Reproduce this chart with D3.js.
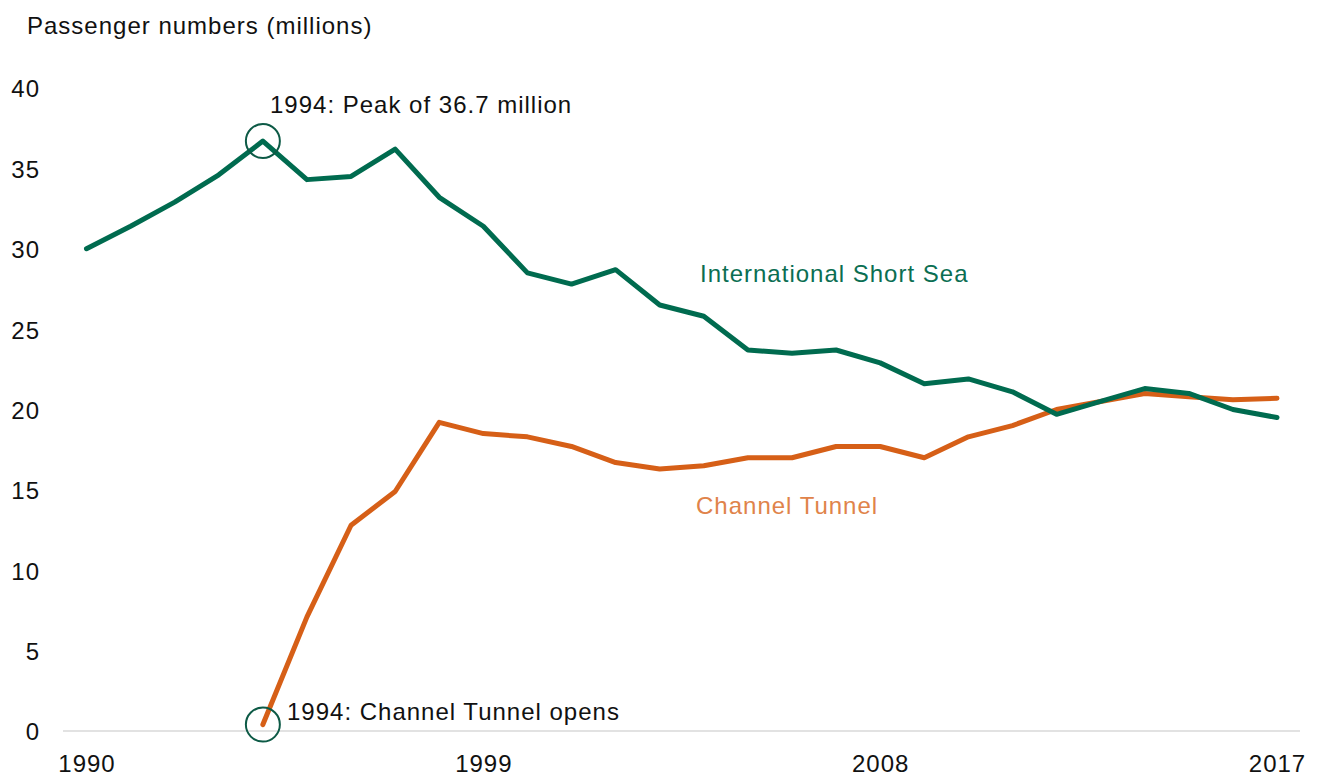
<!DOCTYPE html>
<html>
<head>
<meta charset="utf-8">
<script src="https://cdn.jsdelivr.net/npm/d3@7"></script>
<style>
  html, body { margin: 0; padding: 0; background: #ffffff; }
  svg { display: block; }
  text { font-family: "Liberation Sans", Arial, sans-serif; letter-spacing: 1px; }
</style>
</head>
<body>
<svg id="chart" width="1320" height="776"></svg>
<script>
// Passenger numbers (millions), 1990–2017
const years = d3.range(1990, 2018);
const shortSea = [30.0, 31.4, 32.9, 34.6, 36.7, 34.3, 34.5, 36.2, 33.2, 31.4,
                  28.5, 27.8, 28.7, 26.5, 25.8, 23.7, 23.5, 23.7, 22.9, 21.6,
                  21.9, 21.1, 19.7, 20.5, 21.3, 21.0, 20.0, 19.5];
const channelTunnel = [null, null, null, null, 0.4, 7.1, 12.8, 14.9, 19.2, 18.5,
                       18.3, 17.7, 16.7, 16.3, 16.5, 17.0, 17.0, 17.7, 17.7, 17.0,
                       18.3, 19.0, 20.0, 20.5, 21.0, 20.8, 20.6, 20.7];
const yTicks = [0, 5, 10, 15, 20, 25, 30, 35, 40];
const xTicks = [1990, 1999, 2008, 2017];
const peakYear = 1994, peakValue = 36.7;
const openYear = 1994;

const GREEN = "#006b4f";
const ORANGE = "#d65f17";

const svg = d3.select("#chart");

const x = d3.scaleLinear().domain([1990, 2017]).range([86.5, 1277]);
const y = d3.scaleLinear().domain([0, 40]).range([731, 88]);

// title
svg.append("text")
  .attr("x", 27).attr("y", 34)
  .attr("font-size", 24).attr("fill", "#111")
  .text("Passenger numbers (millions)");

// y axis labels
const yAxis = svg.append("g")
  .attr("transform", "translate(40,0)")
  .call(d3.axisLeft(y).tickValues(yTicks).tickSize(0).tickPadding(0).tickFormat(d3.format("d")));
yAxis.select(".domain").remove();
yAxis.selectAll("text")
  .attr("font-family", null).attr("font-size", 24).attr("fill", "#111")
  .attr("dy", "0.37em");

// x baseline
svg.append("line")
  .attr("x1", 63).attr("x2", 1300)
  .attr("y1", y(0)).attr("y2", y(0))
  .attr("stroke", "#d9d9d9").attr("stroke-width", 1.5);

// x axis labels
const xAxis = svg.append("g")
  .attr("transform", "translate(0,772)")
  .call(d3.axisBottom(x).tickValues(xTicks).tickSize(0).tickPadding(0).tickFormat(d3.format("d")));
xAxis.select(".domain").remove();
xAxis.selectAll("text")
  .attr("font-family", null).attr("font-size", 24).attr("fill", "#111")
  .attr("dy", 0);

// series lines
const line = d3.line()
  .defined(d => d.v != null)
  .x(d => x(d.year))
  .y(d => y(d.v));

const tunnelData = years.map((year, i) => ({ year, v: channelTunnel[i] }));
const seaData = years.map((year, i) => ({ year, v: shortSea[i] }));

svg.append("path")
  .datum(tunnelData)
  .attr("d", line)
  .attr("fill", "none")
  .attr("stroke", ORANGE)
  .attr("stroke-width", 5)
  .attr("stroke-linejoin", "round")
  .attr("stroke-linecap", "round");

svg.append("path")
  .datum(seaData)
  .attr("d", line)
  .attr("fill", "none")
  .attr("stroke", GREEN)
  .attr("stroke-width", 5)
  .attr("stroke-linejoin", "round")
  .attr("stroke-linecap", "round");

// series labels
svg.append("text")
  .attr("x", 700).attr("y", 282)
  .attr("font-size", 24).attr("fill", "#0b6e52")
  .text("International Short Sea");

svg.append("text")
  .attr("x", 696).attr("y", 514)
  .attr("font-size", 24).attr("fill", "#e0834a")
  .text("Channel Tunnel");

// annotations
const tunnelOpen = channelTunnel[years.indexOf(openYear)];
svg.append("circle")
  .attr("cx", x(peakYear)).attr("cy", y(peakValue)).attr("r", 17)
  .attr("fill", "none").attr("stroke", "#0d5a46").attr("stroke-width", 2);
svg.append("circle")
  .attr("cx", x(openYear)).attr("cy", y(tunnelOpen)).attr("r", 17)
  .attr("fill", "none").attr("stroke", "#0d5a46").attr("stroke-width", 2);

svg.append("text")
  .attr("x", 270).attr("y", 113)
  .attr("font-size", 24).attr("fill", "#111")
  .text(`${peakYear}: Peak of ${peakValue} million`);

svg.append("text")
  .attr("x", 287).attr("y", 720)
  .attr("font-size", 24).attr("fill", "#111")
  .text(`${openYear}: Channel Tunnel opens`);
</script>
</body>
</html>
